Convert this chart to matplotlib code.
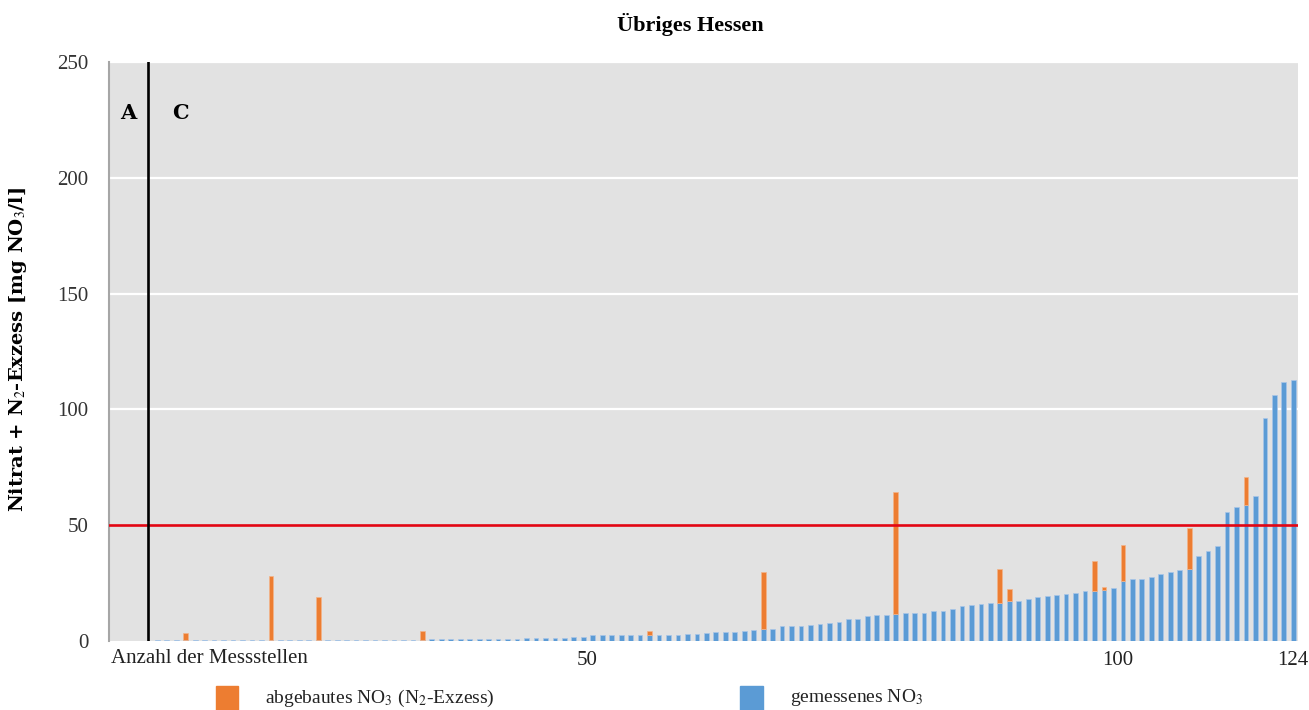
import numpy as np
import matplotlib
matplotlib.use('Agg')
import matplotlib.pyplot as plt
from matplotlib.patches import Rectangle

plt.rcParams['font.family'] = ['Liberation Serif', 'DejaVu Serif']
plt.rcParams['mathtext.fontset'] = 'stix'

# gemessenes NO3 per Messstelle (sorted), mg NO3/l
gemessen = ([0.4] * 28 + [0.5] + [0.7] * 4 + [1.0] * 6 + [1.4] * 5 + [1.8] * 2
            + [2.5] * 4 + [2.8] * 6 + [3.2, 3.2, 3.5, 3.8, 4.0, 4.0, 4.5, 4.8, 5.0]
            + [5.3, 6.3, 6.3, 6.3, 6.8, 7.5, 7.8, 8.2, 9.5, 9.5, 10.9, 11.4, 11.4, 11.7]
            + [12.0, 12.0, 12.0, 13.1, 13.1, 13.8, 15.2, 15.5, 15.9, 16.5, 16.4, 17.2]
            + [17.2, 18.3, 19.0, 19.3, 20.0, 20.4, 20.7, 21.4, 21.7, 22.2, 23.1, 25.8]
            + [26.9, 26.9, 27.6, 29.1, 29.8, 30.5, 31.1, 36.7, 38.9, 41.0, 55.7, 57.9]
            + [58.6, 62.7, 96.4, 106.4, 111.8, 112.8])

# abgebautes NO3 (N2-Exzess): {Messstelle: Wert}
abgebaut_pts = {4: 3.1, 13: 27.6, 18: 18.7, 29: 3.7, 53: 1.5, 65: 25.0, 79: 52.8,
                90: 14.5, 91: 5.3, 100: 13.0, 101: 1.3, 103: 15.5, 110: 17.8, 116: 12.2}

xtick_labels = ['50', '100', '124']
xtick_pos = [46.4, 102.5, 121]
yticks = [0, 50, 100, 150, 200, 250]
grenzwert = 50

col_blue = '#5B9BD5'
col_orange = '#ED7D31'

n = len(gemessen)
x = np.arange(1, n + 1)
gem = np.array(gemessen)
ab_idx = np.array(list(abgebaut_pts.keys()))
ab_val = np.array(list(abgebaut_pts.values()))

fig = plt.figure(figsize=(13.09, 7.10), dpi=100)
ax = fig.add_axes([109 / 1309, 1 - 641 / 710, (1298 - 109) / 1309, (641 - 62) / 710])
ax.set_facecolor('#E2E2E2')

ax.bar(x, gem, width=0.5, color=col_blue, edgecolor='#A9C6E8', linewidth=0.5, zorder=3)
ax.bar(ab_idx, ab_val, width=0.5, bottom=gem[ab_idx - 1], color=col_orange,
       edgecolor='#F3B48A', linewidth=0.5, zorder=3)

for y in [100, 150, 200, 250]:
    ax.axhline(y, color='white', lw=1.6, zorder=1)
ax.axhline(grenzwert, color='#E30613', lw=1.9, zorder=4)
ax.axvline(0, color='black', lw=1.9, zorder=4)

ax.set_xlim(-4.1, 121.5)
ax.set_ylim(0, 250)
ax.set_yticks(yticks)
ax.set_xticks(xtick_pos)
ax.set_xticklabels(xtick_labels)
ax.tick_params(axis='y', length=0, pad=15, labelsize=15, labelcolor='#333333')
ax.tick_params(axis='x', length=0, pad=7, labelsize=15, labelcolor='#222222')
for s in ['top', 'right', 'bottom']:
    ax.spines[s].set_visible(False)
ax.spines['left'].set_color('#A6A6A6')
ax.spines['left'].set_linewidth(1.5)

ax.text(0.002, -0.013, 'Anzahl der Messstellen', transform=ax.transAxes, ha='left', va='top',
        fontsize=15, color='#222222')
ax.text(-2.05, 228, 'A', ha='center', va='center', fontsize=15, fontweight='bold',
        family='DejaVu Serif')
ax.text(3.4, 228, 'C', ha='center', va='center', fontsize=15, fontweight='bold',
        family='DejaVu Serif')

fig.text(690 / 1309, 1 - 25 / 710, 'Übriges Hessen', ha='center', va='center',
         fontsize=16, fontweight='bold')
fig.text(18 / 1309, 1 - 349 / 710, r'Nitrat + N$_2$-Exzess [mg NO$_3$/l]', rotation=90,
         ha='center', va='center', fontsize=14, fontweight='bold', family='DejaVu Serif')

# legend
fig.add_artist(Rectangle((216 / 1309, 0), 22 / 1309, 24 / 710, transform=fig.transFigure,
                         color=col_orange))
fig.text(265 / 1309, 1 - 698 / 710, r'abgebautes NO$_3$ (N$_2$-Exzess)', ha='left',
         va='center', fontsize=14, color='#222222')
fig.add_artist(Rectangle((740 / 1309, 0), 23 / 1309, 24 / 710, transform=fig.transFigure,
                         color=col_blue))
fig.text(790 / 1309, 1 - 698 / 710, r'gemessenes NO$_3$', ha='left', va='center',
         fontsize=14, color='#222222')

fig.savefig('out.png', dpi=100)
